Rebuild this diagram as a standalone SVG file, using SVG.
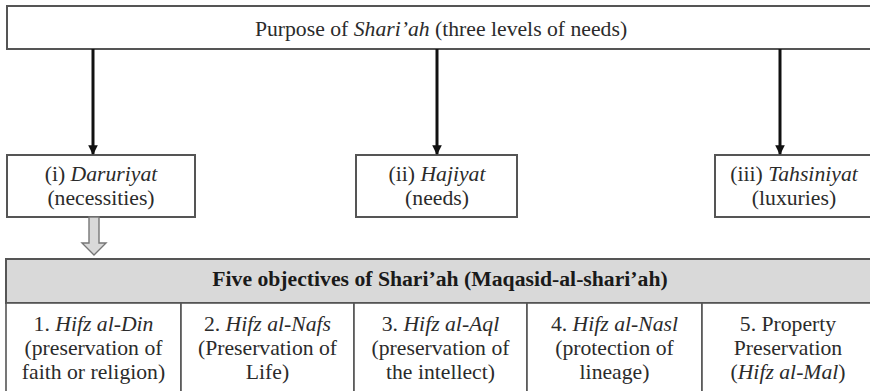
<svg xmlns="http://www.w3.org/2000/svg" width="870" height="391" viewBox="0 0 870 391">
  <style>
    .box { fill: #ffffff; stroke: #555555; stroke-width: 2; }
    .head { fill: #d9d9d9; stroke: #555555; stroke-width: 2; }
    .cell { fill: #ffffff; stroke: #555555; stroke-width: 1.6; }
    text { font-family: 'Liberation Serif', 'Times New Roman', serif; font-size: 21.7px; fill: #2b2b2b; text-anchor: middle; }
    .b { font-weight: bold; fill: #1a1a1a; }
    .i { font-style: italic; }
    .conn { stroke: #111111; stroke-width: 3; fill: none; }
  </style>
  <defs>
    <marker id="tip" viewBox="0 0 10 10" refX="9" refY="5" markerWidth="3.2" markerHeight="3.2" orient="auto" markerUnits="strokeWidth">
      <path d="M0,0 L10,5 L0,10 z" fill="#111111"/>
    </marker>
  </defs>

  <rect width="870" height="391" fill="#ffffff"/>

  <!-- top level -->
  <g id="purpose">
    <rect class="box" x="7" y="6" width="869" height="43"/>
    <text x="441" y="36">Purpose of <tspan class="i">Shari’ah</tspan> (three levels of needs)</text>
  </g>

  <!-- three levels -->
  <g id="daruriyat">
    <rect class="box" x="7" y="155" width="188" height="62"/>
    <text x="101" y="181">(i) <tspan class="i">Daruriyat</tspan></text>
    <text x="101" y="205">(necessities)</text>
  </g>
  <g id="hajiyat">
    <rect class="box" x="356" y="155" width="161" height="62"/>
    <text x="437" y="181">(ii) <tspan class="i">Hajiyat</tspan></text>
    <text x="437" y="205">(needs)</text>
  </g>
  <g id="tahsiniyat">
    <rect class="box" x="715" y="155" width="161" height="62"/>
    <text x="794" y="181">(iii) <tspan class="i">Tahsiniyat</tspan></text>
    <text x="794" y="205">(luxuries)</text>
  </g>

  <!-- connectors -->
  <g id="connectors">
    <line class="conn" x1="93" y1="49" x2="93" y2="154" marker-end="url(#tip)"/>
    <line class="conn" x1="437" y1="49" x2="437" y2="154" marker-end="url(#tip)"/>
    <line class="conn" x1="780" y1="49" x2="780" y2="154" marker-end="url(#tip)"/>
    <path d="M89,217 L99,217 L99,243 L106,243 L94,255 L82,243 L89,243 Z" fill="#d9d9d9" stroke="#777777" stroke-width="1.4"/>
  </g>

  <!-- five objectives table -->
  <g id="objectives-header">
    <rect class="head" x="6" y="259" width="870" height="44"/>
    <text class="b" x="440" y="286">Five objectives of Shari’ah (Maqasid-al-shari’ah)</text>
  </g>
  <g id="hifz-al-din">
    <rect class="cell" x="6" y="303" width="175" height="92"/>
    <text x="93.5" y="331">1. <tspan class="i">Hifz al-Din</tspan></text>
    <text x="93.5" y="355">(preservation of</text>
    <text x="93.5" y="379">faith or religion)</text>
  </g>
  <g id="hifz-al-nafs">
    <rect class="cell" x="181" y="303" width="173" height="92"/>
    <text x="267.5" y="331">2. <tspan class="i">Hifz al-Nafs</tspan></text>
    <text x="267.5" y="355">(Preservation of</text>
    <text x="267.5" y="379">Life)</text>
  </g>
  <g id="hifz-al-aql">
    <rect class="cell" x="354" y="303" width="173" height="92"/>
    <text x="440.5" y="331">3. <tspan class="i">Hifz al-Aql</tspan></text>
    <text x="440.5" y="355">(preservation of</text>
    <text x="440.5" y="379">the intellect)</text>
  </g>
  <g id="hifz-al-nasl">
    <rect class="cell" x="527" y="303" width="175" height="92"/>
    <text x="614.5" y="331">4. <tspan class="i">Hifz al-Nasl</tspan></text>
    <text x="614.5" y="355">(protection of</text>
    <text x="614.5" y="379">lineage)</text>
  </g>
  <g id="hifz-al-mal">
    <rect class="cell" x="702" y="303" width="174" height="92"/>
    <text x="788" y="331">5. Property</text>
    <text x="788" y="355">Preservation</text>
    <text x="788" y="379">(<tspan class="i">Hifz al-Mal</tspan>)</text>
  </g>
</svg>
